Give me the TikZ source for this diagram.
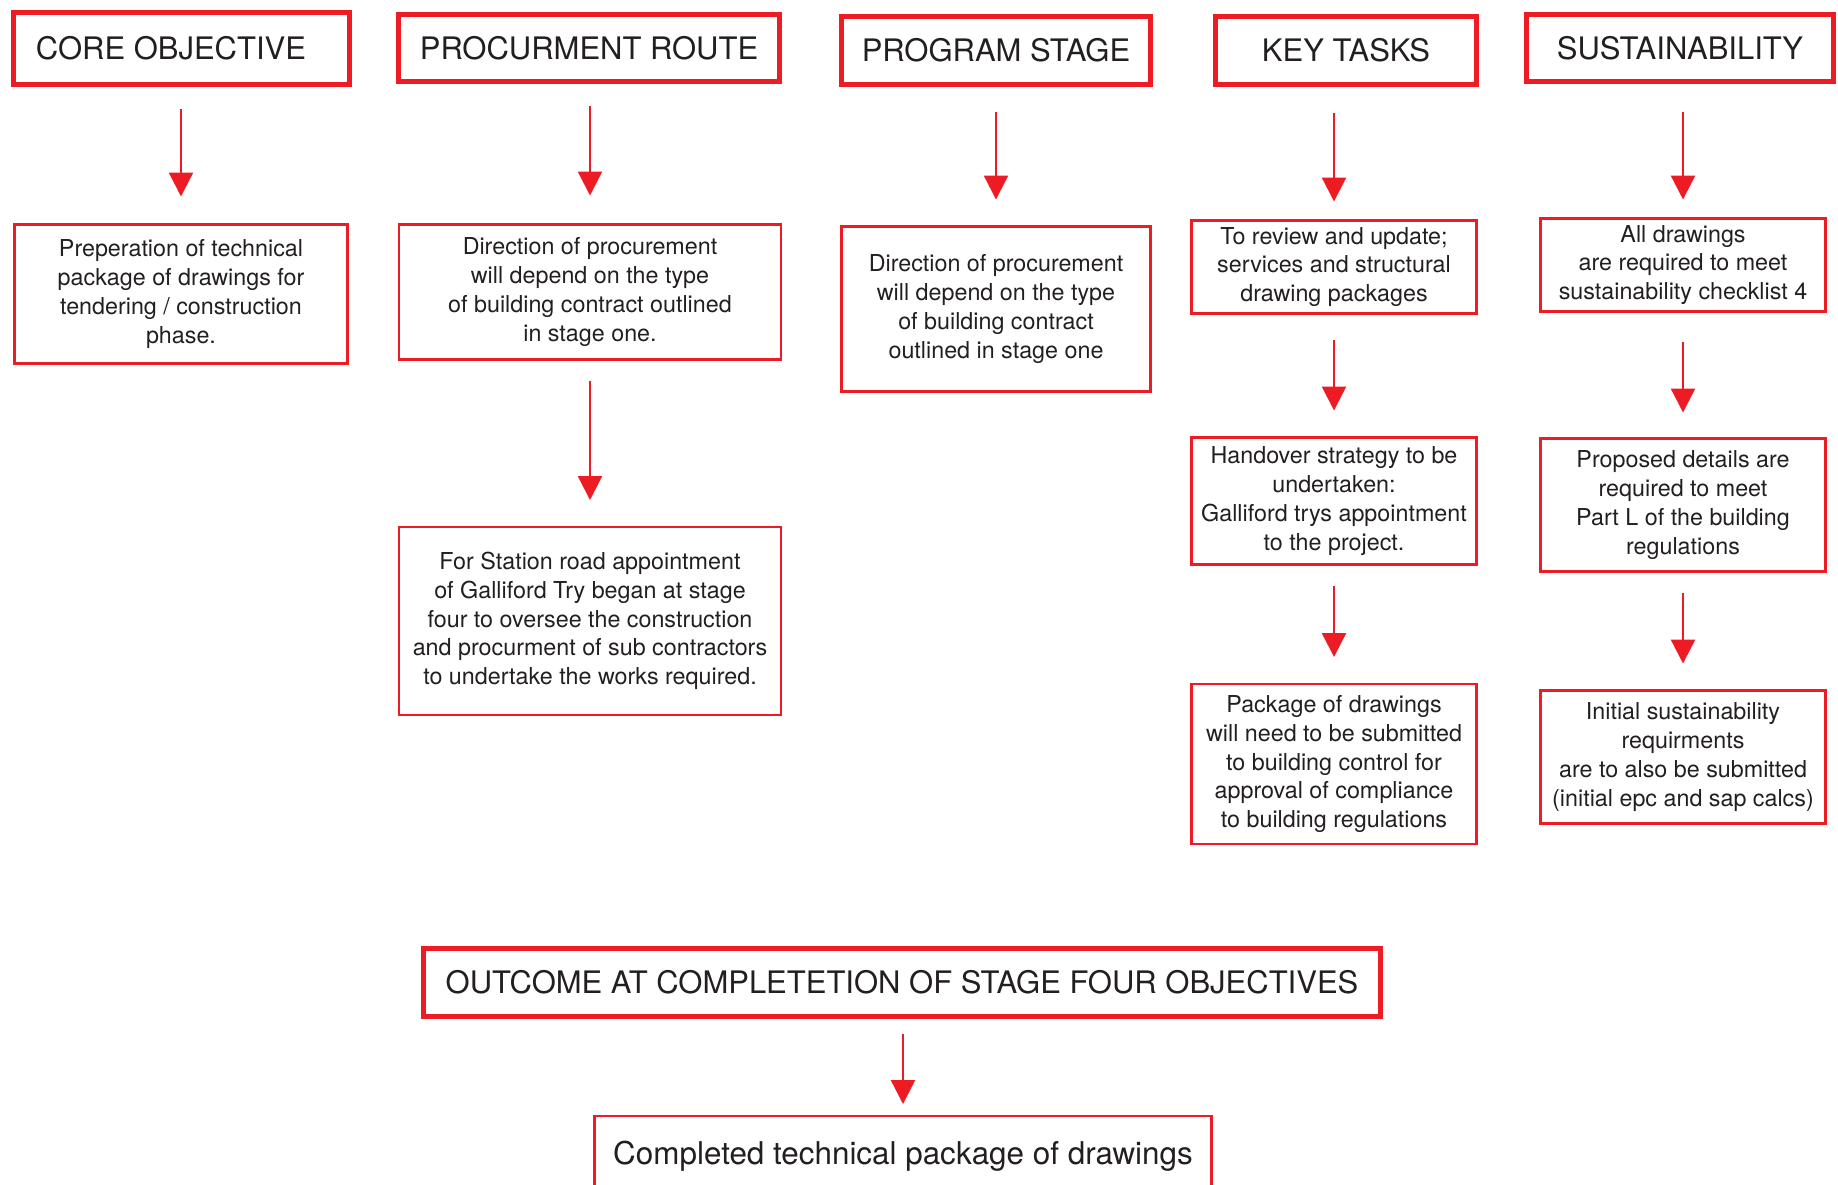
\documentclass[tikz,border=0pt]{standalone}
\usepackage{fontspec}
\setmainfont{TeX Gyre Heros}
\usepackage{tikz}
\usetikzlibrary{arrows.meta,positioning}
\definecolor{brand}{HTML}{ED1C24}
\definecolor{ink}{HTML}{231F20}
\newcommand\hdfont{\fontsize{31}{36}\selectfont}
\newcommand\ntfont{\fontsize{23.3}{28.7}\selectfont}
\newcommand\donefont{\fontsize{31.4}{36}\selectfont}
\tikzset{
  head/.style={draw=brand,line width=5pt,inner sep=0pt,outer sep=0pt,
    align=center,text=ink,font=\hdfont},
  note/.style={draw=brand,line width=2.6pt,inner sep=0pt,outer sep=0pt,
    align=center,text=ink,font=\ntfont},
  flow/.style={-{Triangle[length=24pt,width=24pt]},line width=2.4pt,color=brand}
}
\begin{document}
\begin{tikzpicture}[x=1pt,y=-1pt]
  \useasboundingbox (0,0) rectangle (1838,1184);
  % column headings
  \node[head,minimum width=336,minimum height=72] (core) at (181,48)  {\hspace*{-20pt}CORE OBJECTIVE};
  \node[head,minimum width=381,minimum height=67] (proc) at (589,48)  {PROCURMENT ROUTE};
  \node[head,minimum width=309,minimum height=68] (prog) at (996,50)  {PROGRAM STAGE};
  \node[head,minimum width=261,minimum height=68] (keyt) at (1346,50) {KEY TASKS};
  \node[head,minimum width=307,minimum height=67] (sust) at (1680,48) {SUSTAINABILITY};
  % first row of notes
  \node[note,minimum width=333,minimum height=139] (core1) at (181,294)
    {Preperation of technical\\package of drawings for\\tendering / construction\\phase.};
  \node[note,minimum width=382,minimum height=135] (proc1) at (590,292)
    {Direction of procurement\\will depend on the type\\of building contract outlined\\in stage one.};
  \node[note,minimum width=309,minimum height=165] (prog1) at (996,309)
    {Direction of procurement\\will depend on the type\\of building contract\\outlined in stage one};
  \node[note,minimum width=285,minimum height=93] (keyt1) at (1334,267)
    {To review and update;\\services and structural\\drawing packages};
  \node[note,minimum width=285,minimum height=93] (sust1) at (1683,265)
    {All drawings\\are required to meet\\sustainability checklist 4};
  % second row
  \node[note,minimum width=382,minimum height=188] (proc2) at (590,621)
    {For Station road appointment\\of Galliford Try began at stage\\four to oversee the construction\\and procurment of sub contractors\\to undertake the works required.};
  \node[note,minimum width=285,minimum height=127] (keyt2) at (1334,501)
    {Handover strategy to be\\undertaken:\\Galliford trys appointment\\to the project.};
  \node[note,minimum width=285,minimum height=133] (sust2) at (1683,505)
    {Proposed details are\\required to meet\\Part L of the building\\regulations};
  % third row
  \node[note,minimum width=285,minimum height=160] (keyt3) at (1334,764)
    {Package of drawings\\will need to be submitted\\to building control for\\approval of compliance\\to building regulations};
  \node[note,minimum width=285,minimum height=133] (sust3) at (1683,757)
    {Initial sustainability\\requirments\\are to also be submitted\\(initial epc and sap calcs)};
  % outcome
  \node[head,minimum width=957,minimum height=68] (outc) at (902,982)
    {OUTCOME AT COMPLETETION OF STAGE FOUR OBJECTIVES};
  \node[note,font=\donefont,minimum width=617,minimum height=80] (done) at (903,1156)
    {Completed technical package of drawings};
  % arrows down each column (from/to/gap at start/gap at end)
  \foreach \a/\b/\s/\e in {core/core1/25/28,proc/proc1/24/29,prog/prog1/28/27,
    keyt/keyt1/29/19,sust/sust1/30/19,proc1/proc2/21/27,keyt1/keyt2/26/27,
    sust1/sust2/30/26,keyt2/keyt3/21/27,sust2/sust3/21/27,outc/done/18/12}
    {\draw[flow,shorten <=\s pt,shorten >=\e pt] (\b.north |- \a.south) -- (\b.north);}
\end{tikzpicture}
\end{document}
